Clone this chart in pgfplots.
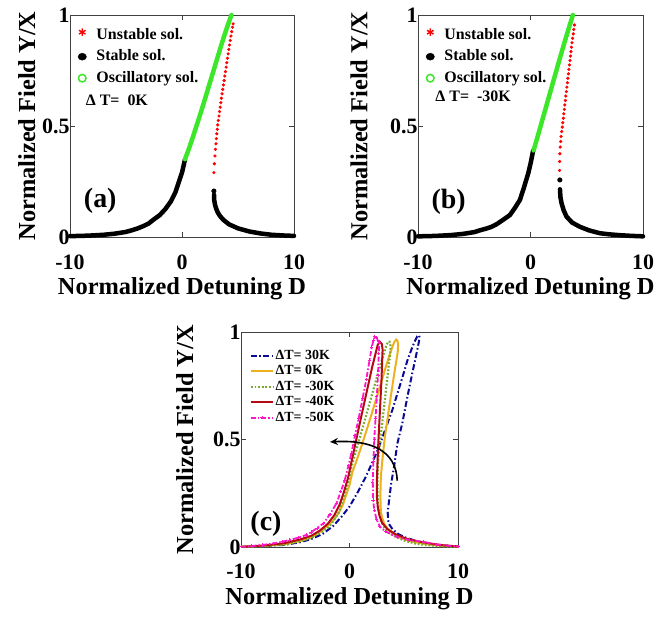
\documentclass[border=0pt]{standalone}
\usepackage{pgfplots}
\pgfplotsset{compat=1.18}
\usepackage{fontspec}
\setmainfont{Liberation Serif}
\usetikzlibrary{arrows.meta}
\definecolor{oscgreen}{RGB}{60,230,40}
\definecolor{cA}{RGB}{10,10,150}
\definecolor{cB}{RGB}{237,177,32}
\definecolor{cC}{RGB}{119,172,48}
\definecolor{cD}{RGB}{180,10,20}
\definecolor{cE}{RGB}{255,20,200}
\pgfplotsset{
  panel/.style={scale only axis, xmin=-10,xmax=10,ymin=0,ymax=1, clip=false,
    xtick={-10,0,10}, xticklabels={-10,0,10}, ytick={0,0.5,1}, yticklabels={0,0.5,1},
    tick align=inside, major tick length=5bp, tick pos=both,
    axis line style={black!75, line width=1bp}, tick style={black!75, line width=1bp},
    ticklabel style={font=\fontsize{22}{22}\selectfont\bfseries},
    yticklabel style={anchor=east, xshift=3bp},
    label style={font=\fontsize{24.5}{26}\selectfont\bfseries},
    xlabel={Normalized Detuning D}, ylabel={Normalized Field Y/X},
    xlabel style={at={(axis description cs:0.5,0)}, anchor=base, yshift=-57bp},
    legend cell align=left,
  },
  toplegend/.style={legend style={at={(axis description cs:0.035,0.955)}, anchor=north west,
    draw=none, fill=none, inner sep=0pt, row sep=1.5bp, column sep=7bp,
    font=\fontsize{16}{19}\selectfont\bfseries,
    nodes={text height=11bp, text depth=3bp, inner sep=3bp}}},
  stab/.style={black, line width=4.5bp, line cap=round, forget plot},
  osc/.style={oscgreen, line width=4.5bp, line cap=round, forget plot},
  unst/.style={red, only marks, mark=*, mark size=1.4bp, forget plot},
}
\begin{document}
\begin{tikzpicture}
\useasboundingbox (0,0) rectangle (657bp,-619bp);
% ---------------- (a)
\begin{axis}[panel, toplegend, at={(70bp,-237bp)}, anchor=south west, width=224bp, height=222bp,
  xticklabel style={anchor=base, yshift=-32bp},
  ylabel style={at={(axis description cs:-0.156,0.5)}, anchor=base}]
\addlegendimage{only marks, mark=asterisk, red, mark size=3.8bp, mark options={line width=1.4bp, yshift=3bp}}
\addlegendentry{Unstable sol.}
\addlegendimage{only marks, mark=*, black, mark size=3.5bp, mark options={xscale=1.2}}
\addlegendentry{Stable sol.}
\addlegendimage{only marks, mark=o, oscgreen, mark size=3.8bp, mark options={line width=1.5bp}}
\addlegendentry{Oscillatory sol.}
\addplot[stab] table {
-10 0.004
-9 0.005
-8 0.007
-7 0.010
-6 0.015
-5 0.023
-4.5 0.030
-4 0.038
-3.5 0.048
-3 0.060
-2.5 0.080
-2 0.098
-1.5 0.125
-1 0.160
-0.6 0.200
-0.3 0.245
0 0.290
0.27 0.350
};
\addplot[stab] table {
2.86 0.190
2.88 0.165
2.95 0.145
3.05 0.128
3.2 0.110
3.4 0.094
3.7 0.077
4.2 0.057
5.0 0.039
6.0 0.025
7.0 0.016
8.0 0.010
9.0 0.007
10.0 0.005
};
\addplot[black, only marks, mark=*, mark size=2.3bp, forget plot] coordinates {(2.85,0.207)};
\addplot[osc] table {
0.27 0.35
0.63 0.40
0.97 0.45
1.29 0.50
1.61 0.55
1.92 0.60
2.22 0.65
2.52 0.70
2.82 0.75
3.12 0.80
3.42 0.85
3.73 0.90
4.06 0.95
4.27 0.98
4.42 1.00
};
\addplot[unst] table {
2.85 0.29
2.89 0.33
2.94 0.365
2.99 0.395
3.03 0.42
3.07 0.443
3.11 0.465
3.15 0.485
3.19 0.505
3.24 0.525
3.30 0.545
3.35 0.565
3.41 0.585
3.47 0.605
3.52 0.625
3.58 0.645
3.64 0.665
3.70 0.685
3.76 0.705
3.82 0.725
3.88 0.745
3.94 0.765
4.00 0.785
4.06 0.805
4.12 0.825
4.18 0.845
4.24 0.865
4.31 0.885
4.37 0.905
4.44 0.925
4.51 0.945
4.56 0.96
};
\node[anchor=west, font=\fontsize{16}{19}\selectfont\bfseries] at (axis cs:-8.9,0.617) {Δ T=\ \ 0K};
\node[font=\fontsize{28}{30}\selectfont\bfseries] at (axis cs:-7.3,0.162) {(a)};
\end{axis}
% ---------------- (b)
\begin{axis}[panel, toplegend, at={(418bp,-237bp)}, anchor=south west, width=225bp, height=222bp,
  xticklabel style={anchor=base, yshift=-32bp},
  ylabel style={at={(axis description cs:-0.225,0.5)}, anchor=base}]
\addlegendimage{only marks, mark=asterisk, red, mark size=3.8bp, mark options={line width=1.4bp, yshift=3bp}}
\addlegendentry{Unstable sol.}
\addlegendimage{only marks, mark=*, black, mark size=3.5bp, mark options={xscale=1.2}}
\addlegendentry{Stable sol.}
\addlegendimage{only marks, mark=o, oscgreen, mark size=3.8bp, mark options={line width=1.5bp}}
\addlegendentry{Oscillatory sol.}
\addplot[stab] table {
-10 0.003
-9 0.004
-8 0.006
-7 0.009
-6 0.014
-5 0.022
-4.5 0.030
-4 0.037
-3.5 0.045
-3 0.058
-2.5 0.075
-1.83 0.099
-1.4 0.130
-0.94 0.167
-0.6 0.220
-0.2 0.287
0 0.330
0.24 0.390
};
\addplot[stab] table {
2.62 0.215
2.66 0.180
2.76 0.152
2.95 0.120
3.2 0.092
3.7 0.065
4.39 0.046
5.2 0.030
6.17 0.017
7.0 0.012
8.0 0.008
9.0 0.005
10.0 0.003
};
\addplot[black, only marks, mark=*, mark size=2.3bp, forget plot] coordinates {(2.61,0.257)};
\addplot[osc] table {
0.27 0.39
0.62 0.45
0.90 0.50
1.18 0.55
1.46 0.60
1.74 0.65
2.02 0.70
2.30 0.75
2.58 0.80
2.87 0.85
3.16 0.90
3.46 0.95
3.77 1.00
};
\addplot[unst] table {
2.58 0.30
2.59 0.34
2.61 0.375
2.64 0.405
2.68 0.43
2.72 0.453
2.77 0.475
2.82 0.495
2.87 0.515
2.92 0.535
2.96 0.555
3.01 0.575
3.05 0.595
3.10 0.615
3.14 0.635
3.19 0.655
3.23 0.675
3.28 0.695
3.32 0.715
3.37 0.735
3.41 0.755
3.46 0.775
3.51 0.795
3.55 0.815
3.60 0.835
3.64 0.855
3.69 0.875
3.74 0.895
3.80 0.915
3.85 0.935
3.90 0.955
};
\node[anchor=west, font=\fontsize{16}{19}\selectfont\bfseries] at (axis cs:-8.76,0.632) {Δ T=\ \ -30K};
\node[font=\fontsize{28}{30}\selectfont\bfseries] at (axis cs:-7.27,0.158) {(b)};
\end{axis}
% ---------------- (c)
\begin{axis}[panel, at={(241bp,-547.5bp)}, anchor=south west, width=217bp, height=215.5bp,
  xticklabel style={anchor=base, yshift=-30.5bp},
  ylabel style={at={(axis description cs:-0.221,0.5)}, anchor=base},
  legend style={at={(axis description cs:0.04,0.925)}, anchor=north west,
    draw=none, fill=none, inner sep=0pt, row sep=0.5bp,
    font=\fontsize{14}{16}\selectfont\bfseries,
    nodes={text height=9.5bp, text depth=2.5bp, inner sep=1.5bp}},
  legend image code/.code={\draw[mark repeat=2,mark phase=2,#1] plot coordinates {(0bp,0bp)(11bp,0bp)(22bp,0bp)};}]
\addplot[cA, line width=2bp, dash pattern=on 6bp off 2.5bp on 1.5bp off 2.5bp] table {
-10 0.003
-8 0.006
-6 0.012
-4.5 0.025
-3.5 0.040
-2.5 0.062
-1.5 0.100
-0.7 0.145
0 0.190
0.8 0.260
1.52 0.330
2.15 0.400
2.74 0.470
3.35 0.555
3.96 0.640
4.45 0.720
4.88 0.790
5.35 0.870
5.79 0.930
6.05 0.960
6.25 0.980
6.40 0.985
6.47 0.975
6.30 0.930
6.05 0.870
5.79 0.810
5.30 0.690
4.88 0.580
4.40 0.480
4.12 0.378
3.85 0.300
3.66 0.224
3.52 0.160
3.60 0.112
3.96 0.085
4.50 0.062
5.18 0.046
6.30 0.028
7.62 0.015
8.80 0.008
10.0 0.004
};
\addlegendentry{ΔT= 30K}
\addplot[cB, line width=2bp] table {
-10 0.004
-8 0.007
-6 0.015
-4.5 0.030
-3.5 0.048
-2.5 0.080
-1.5 0.125
-1 0.160
-0.6 0.200
-0.3 0.245
0 0.290
0.27 0.350
0.63 0.40
0.97 0.45
1.29 0.50
1.61 0.55
1.92 0.60
2.22 0.65
2.52 0.70
2.82 0.75
3.12 0.80
3.42 0.85
3.73 0.90
3.98 0.935
4.15 0.955
4.30 0.965
4.42 0.960
4.48 0.940
4.44 0.905
4.31 0.865
4.18 0.825
4.06 0.785
3.94 0.745
3.82 0.705
3.70 0.665
3.58 0.625
3.47 0.585
3.35 0.545
3.24 0.505
3.15 0.465
3.07 0.425
2.99 0.385
2.92 0.345
2.87 0.300
2.85 0.250
2.86 0.200
2.90 0.165
3.00 0.140
3.20 0.110
3.50 0.088
4.20 0.057
5.00 0.039
6.00 0.025
7.00 0.016
8.00 0.010
9.00 0.007
10.0 0.005
};
\addlegendentry{ΔT= 0K}
\addplot[cC, line width=2.2bp, dash pattern=on 1.8bp off 1.8bp] table {
-10 0.003
-8 0.006
-6 0.014
-4.5 0.030
-3.5 0.045
-2.5 0.075
-1.83 0.099
-1.4 0.130
-0.94 0.167
-0.6 0.220
-0.2 0.287
0 0.330
0.27 0.390
0.62 0.450
0.90 0.500
1.18 0.550
1.46 0.600
1.74 0.650
2.02 0.700
2.30 0.750
2.58 0.800
2.87 0.850
3.16 0.900
3.38 0.935
3.55 0.955
3.70 0.955
3.78 0.935
3.74 0.895
3.64 0.855
3.55 0.815
3.46 0.775
3.37 0.735
3.28 0.695
3.19 0.655
3.10 0.615
3.01 0.575
2.92 0.535
2.82 0.495
2.72 0.453
2.64 0.405
2.60 0.360
2.58 0.300
2.59 0.250
2.62 0.210
2.70 0.170
2.90 0.125
3.20 0.092
3.70 0.065
4.39 0.046
5.20 0.030
6.17 0.017
7.00 0.012
8.00 0.008
9.00 0.005
10.0 0.003
};
\addlegendentry{ΔT= -30K}
\addplot[cD, line width=2bp] table {
-10 0.003
-8 0.009
-6 0.020
-4.5 0.038
-3.5 0.055
-2.7 0.080
-2.0 0.110
-1.4 0.150
-0.9 0.200
-0.5 0.260
-0.15 0.320
0.15 0.390
0.45 0.460
0.75 0.530
1.05 0.600
1.40 0.680
1.75 0.760
2.10 0.840
2.40 0.900
2.60 0.940
2.79 0.955
2.97 0.945
3.05 0.920
3.02 0.880
2.95 0.780
2.85 0.680
2.75 0.580
2.65 0.480
2.57 0.380
2.52 0.300
2.52 0.240
2.60 0.190
2.75 0.150
3.00 0.115
3.50 0.085
4.30 0.060
5.30 0.040
6.50 0.027
8.00 0.014
9.00 0.009
10.0 0.005
};
\addlegendentry{ΔT= -40K}
\addplot[cE, line width=1.8bp, dash pattern=on 5bp off 2bp on 1.5bp off 2bp, mark=+, mark size=1.6bp, mark options={solid, line width=0.8bp}] table {
-10 0.003
-9 0.007
-8 0.012
-7 0.019
-6.2 0.027
-5.5 0.035
-4.7 0.046
-4 0.058
-3.5 0.072
-3 0.090
-2.4 0.112
-1.8 0.155
-1.2 0.205
-0.8 0.260
-0.43 0.313
-0.1 0.380
0.18 0.437
0.5 0.520
0.85 0.600
1.2 0.690
1.55 0.780
1.85 0.870
2.05 0.930
2.20 0.960
2.33 0.978
2.50 0.975
2.65 0.955
2.75 0.950
2.70 0.900
2.62 0.800
2.52 0.700
2.40 0.600
2.28 0.500
2.20 0.400
2.15 0.300
2.17 0.220
2.30 0.170
2.50 0.130
2.80 0.097
3.30 0.075
4.30 0.050
5.50 0.035
6.80 0.026
8.00 0.015
9.00 0.009
10.0 0.005
};
\addlegendentry{ΔT= -50K}
\draw[-{Stealth[length=8bp,width=7bp]}, line width=1.6bp] (axis cs:4.4,0.31) .. controls (axis cs:4.3,0.45) and (axis cs:2.0,0.50) .. (axis cs:-1.8,0.49);
\node[font=\fontsize{28}{30}\selectfont\bfseries] at (axis cs:-7.7,0.109) {(c)};
\end{axis}
\end{tikzpicture}
\end{document}
